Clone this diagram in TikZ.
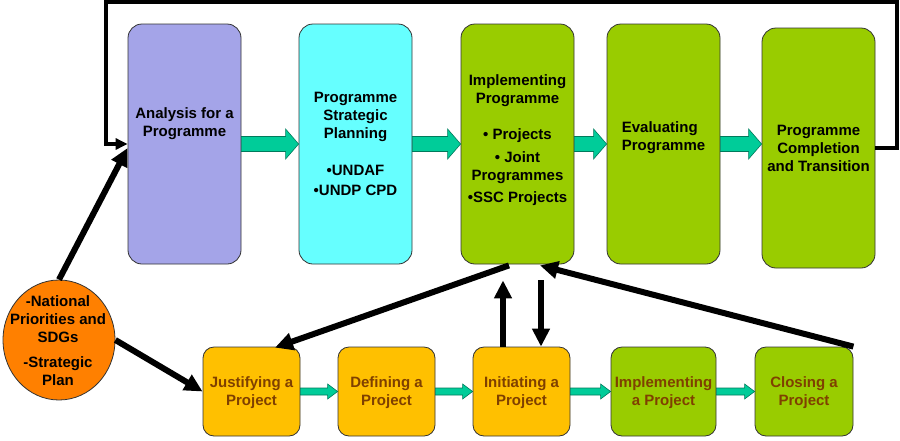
\documentclass[tikz,border=0pt]{standalone}
\usepackage{fontspec}
\setmainfont{Liberation Sans}
\usetikzlibrary{arrows.meta,calc,shapes.geometric}
\definecolor{lav}{HTML}{A4A4E8}
\definecolor{cyn}{HTML}{66FFFF}
\definecolor{grn}{HTML}{99CC00}
\definecolor{yel}{HTML}{FFC000}
\definecolor{org}{HTML}{FF8000}
\definecolor{tealc}{HTML}{00CC99}
\definecolor{brn}{HTML}{7F4000}
\definecolor{edge}{HTML}{333333}
\newcommand\fs{\fontsize{15pt}{18pt}\selectfont\bfseries}
\newcommand\blkarrow[5]{\draw[barr] let \p1=(#1.east), \p2=(#2.west) in
  (\x1,{\y1+#3}) -- ({\x2-#5},{\y1+#3}) -- ({\x2-#5},{\y1+#4}) -- (\x2,\y1)
  -- ({\x2-#5},{\y1-#4}) -- ({\x2-#5},{\y1-#3}) -- (\x1,{\y1-#3}) -- cycle;}
\tikzset{
  box/.style={draw=edge, line width=0.8pt, rounded corners=14pt, minimum width=113pt, minimum height=240pt, inner sep=0pt},
  sbox/.style={draw=edge, line width=0.8pt, rounded corners=11pt, minimum width=97pt, minimum height=89pt, inner sep=0pt, align=center, font=\fs, text=brn, text depth=0pt},
  lbl/.style={align=center, font=\fs, inner sep=0pt, text=black},
  blk/.style={line width=6pt, -{Triangle[length=18pt,width=17pt]}},
  fback/.style={line width=3.5pt, line join=miter, -{Triangle[length=12pt,width=11pt]}},
  barr/.style={fill=tealc, draw=tealc!60!black, line width=0.6pt}
}
\begin{document}
\begin{tikzpicture}[x=1pt,y=-1pt]
\useasboundingbox[fill=white] (0,0) rectangle (900,440);
% top boxes
\node[box,fill=lav] (an) at (184.5,144) {};
\node[box,fill=cyn] (sp) at (355.5,144) {};
\node[box,fill=grn] (ip) at (517.5,144) {};
\node[box,fill=grn] (ev) at (663.5,144) {};
\node[box,fill=grn] (cp) at (818.5,148) {};
% top texts
\node[lbl] (t1) at (184.5,123.5) {Analysis for a\\Programme};
\node[lbl] (t2) at (355.5,144) {Programme\\Strategic\\Planning\\[19pt]•UNDAF\\[2pt]•UNDP CPD};
\node[lbl] (t3) at (517.5,140) {Implementing\\Programme\\[18pt]• Projects\\[5pt]• Joint\\Programmes\\[4pt]•SSC Projects};
\node[lbl,align=left] (t4) at (663.5,137.5) {Evaluating\\Programme};
\node[lbl] (t5) at (818.5,148.5) {Programme\\Completion\\and Transition};
% bottom boxes
\node[sbox,fill=yel] (jp) at (251.5,391.5) {Justifying a\\Project};
\node[sbox,fill=yel] (dp) at (386.5,391.5) {Defining a\\Project};
\node[sbox,fill=yel] (inp) at (521.5,391.5) {Initiating a\\Project};
\node[sbox,fill=grn,minimum width=105pt] (imp) at (663.5,391.5) {Implementing\\a Project};
\node[sbox,fill=grn,minimum width=98pt] (cl) at (804,391.5) {Closing a\\Project};
% circle
\node[ellipse, draw=edge, line width=0.8pt, fill=org, minimum width=112pt, minimum height=120pt, inner sep=0pt] (np) at (59,340) {};
\node[lbl] (t6) at (58,341) {-National\\Priorities and\\SDGs\\[7pt]-Strategic\\Plan};
% block arrows
\blkarrow{an}{sp}{7.5pt}{15pt}{13pt}
\blkarrow{sp}{ip}{7.5pt}{15pt}{13pt}
\blkarrow{ip}{ev}{7.5pt}{15pt}{13pt}
\blkarrow{ev}{cp}{7.5pt}{15pt}{13pt}
\blkarrow{jp}{dp}{3.5pt}{7.5pt}{10pt}
\blkarrow{dp}{inp}{3.5pt}{7.5pt}{10pt}
\blkarrow{inp}{imp}{3.5pt}{7.5pt}{10pt}
\blkarrow{imp}{cl}{3.5pt}{7.5pt}{10pt}
% feedback loop
\coordinate (rt) at (897,2);
\coordinate (lt) at (106,2);
\draw[fback] (cp.east) -| (rt) -- (lt) |- (an.west);
% black arrows
\draw[blk] (np.north) -- ($(an.west)+(0,4)$);
\draw[blk] (np.east) -- (jp.west);
\draw[blk] ($(ip.south)+(-8.5,1)$) -- ($(jp.north)+(23.5,1)$);
\draw[blk] ($(inp.north)+(-18.5,0)$) -- ($(ip.south)+(-14.5,16)$);
\draw[blk] ($(ip.south)+(23.5,16)$) -- ($(inp.north)+(19.5,0)$);
\draw[blk] (cl.north east) -- ($(ip.south)+(22.5,1)$);
\end{tikzpicture}
\end{document}
